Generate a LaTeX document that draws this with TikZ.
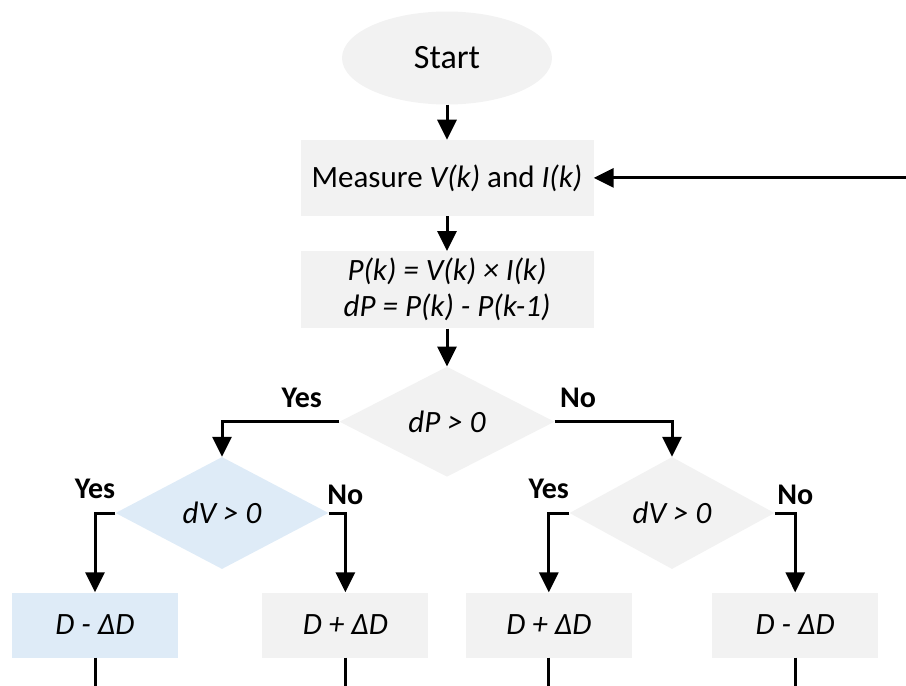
\documentclass[tikz,border=0pt]{standalone}
\usepackage{fontspec}
\setmainfont{Carlito}
\usetikzlibrary{positioning,shapes,arrows.meta}
\definecolor{boxgray}{RGB}{242,242,242}
\definecolor{boxblue}{RGB}{222,235,247}
\tikzstyle{startbox}=[ellipse, fill=boxgray, minimum width=210pt, minimum height=93pt, inner sep=0pt,
font=\fontsize{34}{40}\selectfont]
\tikzstyle{procbox}=[rectangle, fill=boxgray, minimum width=293pt, minimum height=76pt, inner sep=0pt,
align=center, font=\fontsize{31}{37}\selectfont]
\tikzstyle{decbox}=[diamond, fill=boxgray, minimum width=213pt, minimum height=112pt, inner sep=0pt,
font=\fontsize{31}{37}\selectfont\itshape]
\tikzstyle{decblue}=[decbox, fill=boxblue]
\tikzstyle{outbox}=[rectangle, fill=boxgray, minimum width=166pt, minimum height=65pt, inner sep=0pt,
font=\fontsize{31}{37}\selectfont\itshape]
\tikzstyle{outblue}=[outbox, fill=boxblue]
\tikzstyle{line}=[-, line width=3pt]
\tikzstyle{arr}=[-{Triangle[length=20pt,width=19pt]}, line width=3pt]
\tikzstyle{lbl}=[font=\fontsize{30}{36}\selectfont\bfseries, inner sep=2pt]

\begin{document}
\begin{tikzpicture}[x=1pt, y=1pt, node distance=0pt]
    \useasboundingbox (0,0) rectangle (906,-686);

    \node (start) [startbox] at (447,-58) {Start};
    \node (meas) [procbox, below=35pt of start] {Measure \textit{V(k)} and \textit{I(k)}};
    \node (pow) [procbox, below=35pt of meas, minimum height=77pt, font=\fontsize{31}{36}\selectfont\itshape]
        {P(k) = V(k) × I(k)\\ dP = P(k) - P(k-1)};
    \node (dp) [decbox, below=38pt of pow, minimum width=215pt, minimum height=110pt] {dP > 0};

    \node (dvl) [decblue] at (222,-513) {dV > 0};
    \node (dvr) [decbox, minimum width=205pt] at (672,-513) {dV > 0};

	\node(dec1)[outblue] at (95,-625) {D - ΔD};
	\node(inc1)[outbox, right=84pt of dec1] {D + ΔD};
	\node(inc2)[outbox, right=37pt of inc1] {D + ΔD};
	\node(dec2)[outbox, right=80pt of inc2] {D - ΔD};

    \coordinate (edge) at (906,-686);
%Lines ..

   \draw[arr] (start) -- (meas);
   \draw[arr] (meas) -- (pow);
   \draw[arr] (pow) -- (dp);
   \draw[arr] (meas.east -| edge) -- (meas.east);

\draw[arr] (dp.west) -| node[lbl, above=10pt, pos=0.16] {Yes} (dvl.north);
\draw[arr] (dp.east) -| node[lbl, above=10pt, pos=0.1] {No} (dvr.north);

\draw[arr] (dvl.west) -| node[lbl, above=11pt, pos=0.5] {Yes} (dec1.north);
\draw[arr] (dvl.east) -| node[lbl, above=5pt, pos=0.5] {No} (inc1.north);
\draw[arr] (dvr.west) -| node[lbl, above=11pt, pos=0.5] {Yes} (inc2.north);
\draw[arr] (dvr.east) -| node[lbl, above=5pt, pos=0.5] {No} (dec2.north);

%outputs down to the bottom
\draw[line] (dec1.south) -- (dec1.south |- edge);
\draw[line] (inc1.south) -- (inc1.south |- edge);
\draw[line] (inc2.south) -- (inc2.south |- edge);
\draw[line] (dec2.south) -- (dec2.south |- edge);

\end{tikzpicture}
\end{document}
